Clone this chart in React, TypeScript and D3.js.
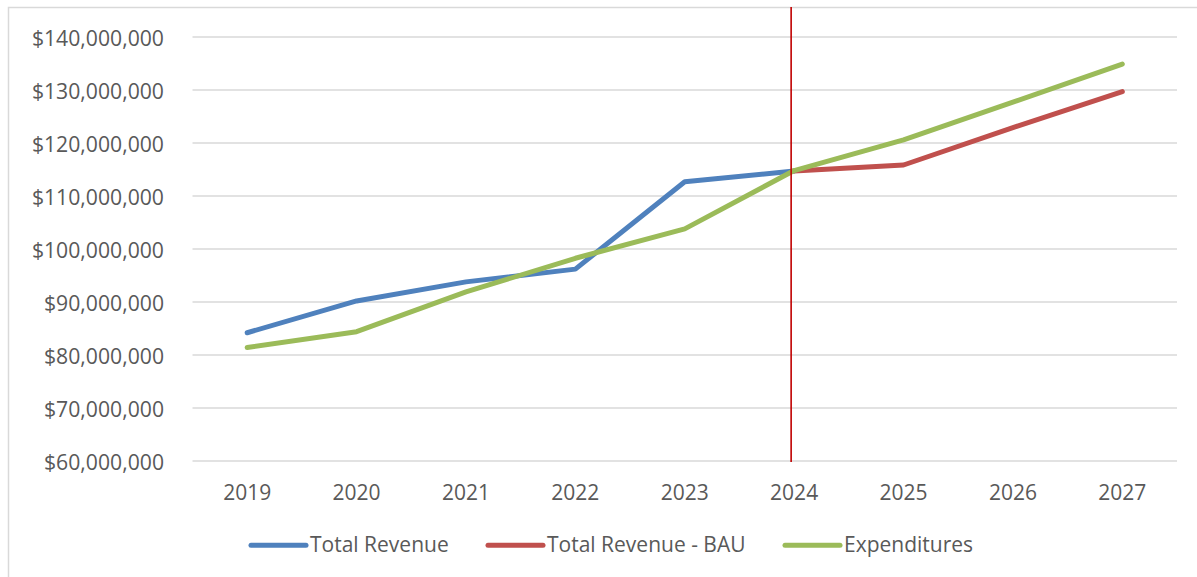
import React from "react";
import * as d3 from "d3";

const years = ["2019", "2020", "2021", "2022", "2023", "2024", "2025", "2026", "2027"];
const totalRevenue: (number | null)[] = [84.2, 90.2, 93.8, 96.2, 112.7, 114.7, null, null, null];
const totalRevenueBAU: (number | null)[] = [null, null, null, null, null, 114.7, 115.85, 122.9, 129.7];
const expenditures: (number | null)[] = [81.4, 84.4, 91.9, 98.25, 103.8, 114.8, 120.6, 127.7, 134.9];
const yTicks = [60, 70, 80, 90, 100, 110, 120, 130, 140];

const seriesNames = ["Total Revenue", "Total Revenue - BAU", "Expenditures"];
const seriesColors = ["#4F81BD", "#C0504D", "#9BBB59"];

const W = 1197;
const H = 577;
const FONT = "'Open Sans', sans-serif";
const TEXT = "#595959";

export default function App() {
  const x = d3.scaleBand<string>().domain(years).range([192.5, 1177]);
  const y = d3.scaleLinear().domain([60, 140]).range([461, 37]);
  const cx = (yr: string) => (x(yr) as number) + x.bandwidth() / 2;

  const line = d3
    .line<number | null>()
    .defined((d) => d !== null)
    .x((_, i) => cx(years[i]))
    .y((d) => y(d as number));

  const series = [totalRevenue, totalRevenueBAU, expenditures];
  const fmt = (v: number) => "$" + d3.format(",")(v * 1000000);

  const legendX = [251, 488, 785];

  return (
    <svg
      width={W}
      height={H}
      style={{ position: "absolute", left: 0, top: 0, background: "#fff" }}
      fontFamily={FONT}
    >
      <rect x={8.5} y={7.5} width={1300} height={700} fill="#fff" stroke="#D9D9D9" strokeWidth={1.5} />
      {yTicks.map((t) => (
        <g key={t}>
          <line x1={192.5} x2={1177} y1={y(t)} y2={y(t)} stroke="#D9D9D9" strokeWidth={1.4} />
          <text
            x={164}
            y={y(t)}
            textAnchor="end"
            dominantBaseline="central"
            fontSize={21.2}
            fill={TEXT}
          >
            {fmt(t)}
          </text>
        </g>
      ))}
      {years.map((yr) => (
        <text key={yr} x={cx(yr)} y={500} textAnchor="middle" fontSize={21} fill={TEXT}>
          {yr}
        </text>
      ))}
      {series.map((s, i) => (
        <path
          key={i}
          d={line(s) || ""}
          fill="none"
          stroke={seriesColors[i]}
          strokeWidth={5}
          strokeLinecap="round"
          strokeLinejoin="round"
        />
      ))}
      <line
        x1={cx("2024") - 3}
        x2={cx("2024") - 3}
        y1={7}
        y2={462}
        stroke="#C00000"
        strokeWidth={1.6}
      />
      {seriesNames.map((n, i) => (
        <g key={n}>
          <line
            x1={legendX[i]}
            x2={legendX[i] + 55}
            y1={545.3}
            y2={545.3}
            stroke={seriesColors[i]}
            strokeWidth={5}
            strokeLinecap="round"
          />
          <text x={legendX[i] + 59} y={552.3} fontSize={21} fill={TEXT}>
            {n}
          </text>
        </g>
      ))}
    </svg>
  );
}
